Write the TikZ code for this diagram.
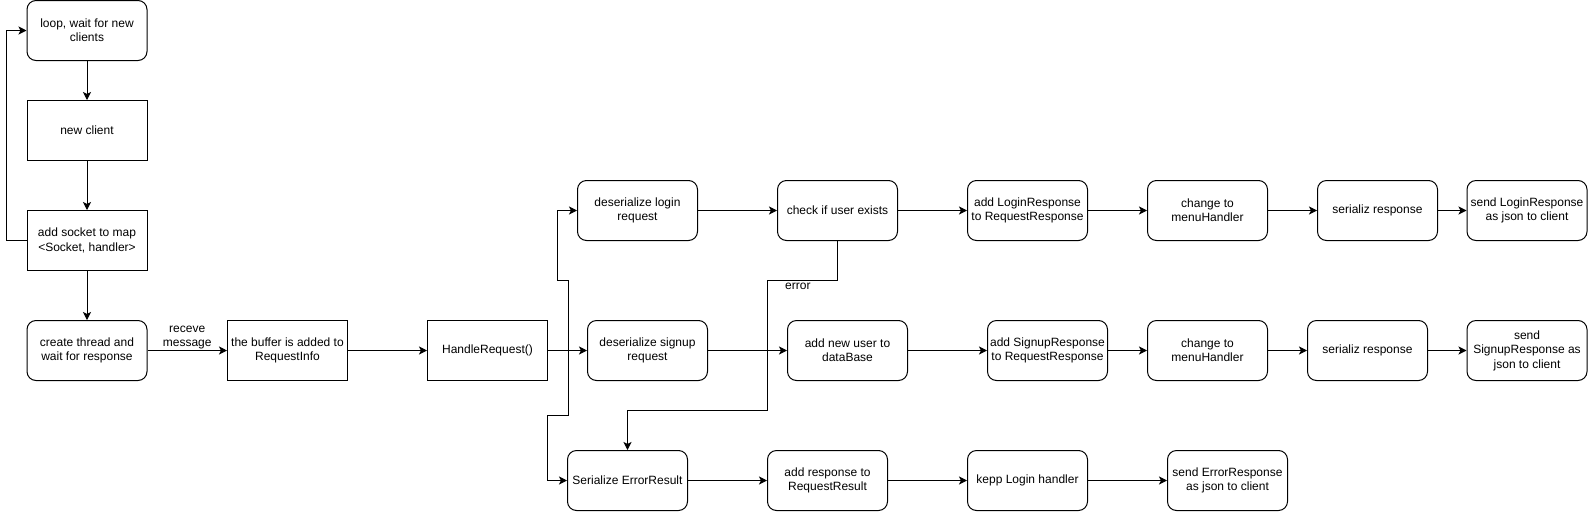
\documentclass[tikz,border=0pt]{standalone}
\usepackage{fontspec}
\setmainfont{Liberation Sans}
\usetikzlibrary{arrows.meta}
\tikzset{
  blk/.style={draw, line width=1pt, minimum width=120pt, minimum height=60pt,
    align=center, inner sep=1pt, font=\fontsize{12}{14.4}\selectfont},
  rblk/.style={blk, rounded corners=9pt},
  arr/.style={line width=1pt, -{Stealth[length=8pt,width=8pt,inset=2pt]}},
  lbl/.style={inner sep=1pt, align=center, font=\fontsize{12}{14.4}\selectfont}
}
\begin{document}
\begin{tikzpicture}[x=1pt,y=-1pt]
   \useasboundingbox[fill=white] (0,0) rectangle (1588,512);
   \node[rblk] (loop) at (87,30.5) {loop, wait for new\\clients};
   \node[blk] (newc) at (87,130.5) {new client};
   \node[blk] (sock) at (87,240.5) {add socket to map\\<Socket, handler>};
   \node[rblk] (thread) at (87,350.5) {create thread and\\wait for response};
   \node[blk] (buf) at (287.5,350.5) {the buffer is added to\\RequestInfo};
   \node[blk] (handle) at (487.5,350.5) {HandleRequest()};
   \node[rblk] (deslog) at (637.5,210.5) {deserialize login\\request};
   \node[rblk] (check) at (837.5,210.5) {check if user exists};
   \node[rblk] (addlog) at (1027.5,210.5) {add LoginResponse\\to RequestResponse};
   \node[rblk] (chglog) at (1207.5,210.5) {change to\\menuHandler};
   \node[rblk] (serlog) at (1377.5,210.5) {serializ response};
   \node[rblk] (sendlog) at (1527,210.5) {send LoginResponse\\as json to client};
   \node[rblk] (dessign) at (647.5,350.5) {deserialize signup\\request};
   \node[rblk] (adduser) at (847.5,350.5) {add new user to\\dataBase};
   \node[rblk] (addsign) at (1047.5,350.5) {add SignupResponse\\to RequestResponse};
   \node[rblk] (chgsign) at (1207.5,350.5) {change to\\menuHandler};
   \node[rblk] (sersign) at (1367.5,350.5) {serializ response};
   \node[rblk] (sendsign) at (1527,350.5) {send\\SignupResponse as\\json to client};
   \node[rblk] (sererr) at (627.5,480.5) {Serialize ErrorResult};
   \node[rblk] (addresp) at (827.5,480.5) {add response to\\RequestResult};
   \node[rblk] (kepp) at (1027.5,480.5) {kepp Login handler};
   \node[rblk] (senderr) at (1227.5,480.5) {send ErrorResponse\\as json to client};
   \coordinate (b1) at (568.5,280.5);
   \coordinate (b2) at (557.5,280.5);
   \coordinate (b3) at (568.5,415.5);
   \coordinate (b4) at (547.5,415.5);
   \coordinate (e1) at (767.5,280.5);
   \coordinate (e2) at (767.5,410.5);
   \draw[arr] (loop) -- (newc);
   \draw[arr] (newc) -- (sock);
   \draw[arr] (sock.west) -- ++(-20,0) |- (loop.west);
   \draw[arr] (sock) -- (thread);
   \draw[arr] (thread) -- node[lbl, above] {receve\\message} (buf);
   \draw[arr] (buf) -- (handle);
   \draw[arr] (handle) -- (dessign);
   \draw[arr] (handle.east) -| (b1) -- (b2) |- (deslog.west);
   \draw[arr] (handle.east) -| (b3) -- (b4) |- (sererr.west);
   \draw[arr] (deslog) -- (check);
   \draw[arr] (check) -- (addlog);
   \draw[arr] (addlog) -- (chglog);
   \draw[arr] (chglog) -- (serlog);
   \draw[arr] (serlog) -- (sendlog);
   \draw[arr] (check.south) |- (e1) -- (e2) -| (sererr.north);
   \node[lbl, anchor=base west] (err) at (784,289) {error};
   \draw[arr] (dessign) -- (adduser);
   \draw[arr] (adduser) -- (addsign);
   \draw[arr] (addsign) -- (chgsign);
   \draw[arr] (chgsign) -- (sersign);
   \draw[arr] (sersign) -- (sendsign);
   \draw[arr] (sererr) -- (addresp);
   \draw[arr] (addresp) -- (kepp);
   \draw[arr] (kepp) -- (senderr);
\end{tikzpicture}
\end{document}
